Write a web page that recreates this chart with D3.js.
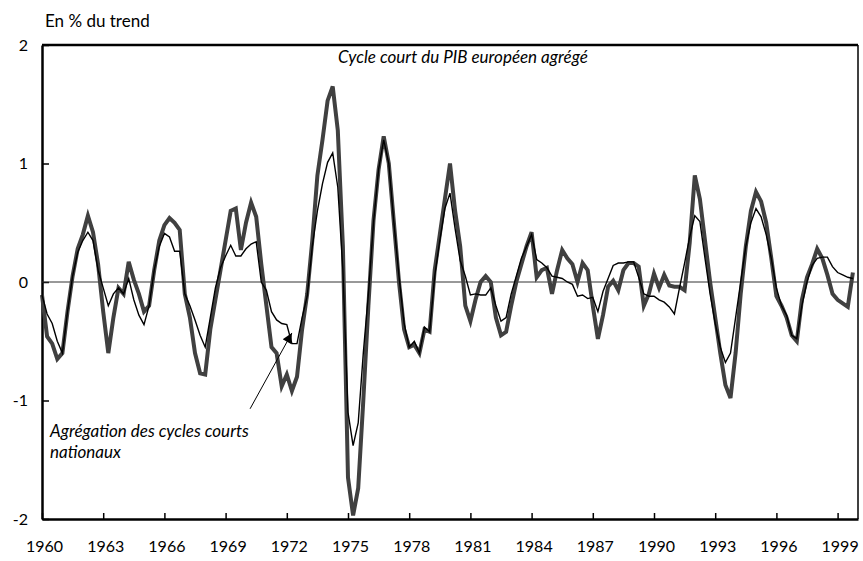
<!DOCTYPE html>
<html>
<head>
<meta charset="utf-8">
<script src="https://cdn.jsdelivr.net/npm/d3@7"></script>
<style>
  body { margin: 0; background: #fff; }
  #chart { width: 863px; height: 561px; }
  text { font-family: Lato, "Open Sans", sans-serif; fill: #000; }
</style>
</head>
<body>
<div id="chart"></div>
<script>
// quarterly data, 1960Q1 - 1999Q4
var startYear = 1960;

var europe = [
	-0.11, -0.46, -0.52, -0.65, -0.6, -0.25, 0.05, 0.28, 0.4, 0.56,
	0.42, 0.15, -0.25, -0.6, -0.3, -0.05, -0.1, 0.17, 0.02, -0.1,
	-0.25, -0.2, 0.1, 0.35, 0.48, 0.54, 0.5, 0.44, -0.1, -0.3,
	-0.6, -0.77, -0.78, -0.4, -0.15, 0.1, 0.35, 0.6, 0.62, 0.27,
	0.5, 0.67, 0.55, 0.15, -0.2, -0.55, -0.6, -0.88, -0.78, -0.92,
	-0.8, -0.4, -0.1, 0.35, 0.9, 1.2, 1.53, 1.65, 1.28, 0.3,
	-1.65, -1.97, -1.74, -1.0, -0.2, 0.52, 0.95, 1.23, 1.0, 0.5,
	0.0, -0.4, -0.55, -0.53, -0.6, -0.4, -0.42, 0.1, 0.4, 0.7,
	1.0, 0.6, 0.3, -0.2, -0.33, -0.15, 0.0, 0.05, 0.0, -0.3,
	-0.45, -0.42, -0.2, 0.0, 0.15, 0.3, 0.42, 0.04, 0.1, 0.12,
	-0.1, 0.1, 0.27, 0.2, 0.15, 0.0, 0.16, 0.1, -0.2, -0.48,
	-0.28, -0.04, 0.01, -0.07, 0.1, 0.16, 0.16, 0.13, -0.2, -0.1,
	0.07, -0.05, 0.06, -0.03, -0.04, -0.04, -0.07, 0.33, 0.9, 0.7,
	0.35, 0.0, -0.3, -0.6, -0.87, -0.98, -0.6, -0.1, 0.3, 0.6,
	0.76, 0.68, 0.5, 0.2, -0.12, -0.2, -0.3, -0.45, -0.5, -0.15,
	0.04, 0.15, 0.28, 0.2, 0.06, -0.1, -0.15, -0.18, -0.21, 0.08
];

var national = [
	-0.11, -0.27, -0.35, -0.5, -0.6, -0.25, 0.05, 0.25, 0.35, 0.42,
	0.35, 0.1, -0.05, -0.2, -0.1, -0.05, -0.1, 0.03, -0.15, -0.28,
	-0.36, -0.2, 0.1, 0.3, 0.41, 0.38, 0.26, 0.26, -0.1, -0.2,
	-0.32, -0.45, -0.55, -0.3, -0.05, 0.12, 0.22, 0.31, 0.22, 0.22,
	0.28, 0.32, 0.34, 0.0, -0.07, -0.25, -0.32, -0.35, -0.36, -0.52,
	-0.52, -0.3, -0.12, 0.3, 0.6, 0.83, 1.01, 1.09, 0.8, 0.1,
	-1.1, -1.38, -1.19, -0.6, -0.1, 0.5, 0.95, 1.2, 1.0, 0.5,
	0.05, -0.35, -0.55, -0.5, -0.6, -0.38, -0.42, 0.05, 0.35, 0.62,
	0.75, 0.45, 0.18, 0.05, -0.11, -0.1, -0.11, -0.11, -0.05, -0.2,
	-0.33, -0.3, -0.1, 0.05, 0.2, 0.3, 0.4, 0.19, 0.16, 0.12,
	0.05, 0.04, 0.03, 0.0, -0.02, -0.12, -0.11, -0.14, -0.13, -0.25,
	-0.08, 0.03, 0.14, 0.16, 0.16, 0.17, 0.17, 0.04, -0.1, -0.12,
	-0.12, -0.15, -0.17, -0.21, -0.27, -0.05, 0.16, 0.38, 0.56, 0.51,
	0.2, -0.1, -0.35, -0.55, -0.68, -0.6, -0.3, 0.0, 0.3, 0.5,
	0.62, 0.55, 0.4, 0.2, -0.05, -0.2, -0.28, -0.45, -0.48, -0.2,
	0.0, 0.14, 0.2, 0.21, 0.21, 0.13, 0.08, 0.06, 0.04, 0.03
];

var xTicks = [1960, 1963, 1966, 1969, 1972, 1975, 1978, 1981, 1984, 1987, 1990, 1993, 1996, 1999];
var yTicks = [-2, -1, 0, 1, 2];

var dom = document.getElementById('chart');
var width = 863, height = 561;
var padding = {left: 42, right: 5, top: 45, bottom: 42};

var svg = d3.select(dom)
	.append("svg")
	.attr("width", width)
	.attr("height", height);

var xScale = d3.scaleLinear()
	.domain([1960, 2000])
	.range([padding.left, width - padding.right]);

var yScale = d3.scaleLinear()
	.domain([-2, 2])
	.range([height - padding.bottom, padding.top]);

var dates = europe.map(function(d, i){ return startYear + i / 4; });

// axes
var xAxis = d3.axisBottom(xScale)
	.tickValues(xTicks)
	.tickFormat(d3.format("d"))
	.tickSizeInner(-6)
	.tickSizeOuter(0)
	.tickPadding(22);

var yAxis = d3.axisLeft(yScale)
	.tickValues(yTicks)
	.tickFormat(function(d){ return d; })
	.tickSizeInner(-7)
	.tickSizeOuter(0)
	.tickPadding(14);

var gx = svg.append("g")
	.attr("transform", "translate(0," + yScale(-2) + ")")
	.call(xAxis);
gx.select(".domain").attr("stroke-width", 2.5);
gx.selectAll(".tick line").attr("stroke-width", 1.5);
gx.selectAll(".tick text").attr("font-size", 16).attr("dx", 2);

var gy = svg.append("g")
	.attr("transform", "translate(" + xScale(1960) + ",0)")
	.call(yAxis);
gy.select(".domain").attr("stroke-width", 2.5);
gy.selectAll(".tick line").attr("stroke-width", 1.5);
gy.selectAll(".tick text").attr("font-size", 16);

// top and right frame
svg.append("line")
	.attr("x1", xScale(1960)).attr("x2", xScale(2000))
	.attr("y1", yScale(2)).attr("y2", yScale(2))
	.attr("stroke", "#000").attr("stroke-width", 2.5);
svg.append("line")
	.attr("x1", xScale(2000)).attr("x2", xScale(2000))
	.attr("y1", yScale(2)).attr("y2", yScale(-2))
	.attr("stroke", "#000").attr("stroke-width", 1.5);

// zero line
svg.append("line")
	.attr("x1", xScale(1960)).attr("x2", xScale(2000))
	.attr("y1", yScale(0)).attr("y2", yScale(0))
	.attr("stroke", "#333").attr("stroke-width", 1);

var line = d3.line()
	.x(function(d, i){ return xScale(dates[i]); })
	.y(function(d){ return yScale(d); });

svg.append("path")
	.datum(europe)
	.attr("fill", "none")
	.attr("stroke", "#404040")
	.attr("stroke-width", 4)
	.attr("stroke-linejoin", "miter")
	.attr("d", line);

svg.append("path")
	.datum(national)
	.attr("fill", "none")
	.attr("stroke", "#000")
	.attr("stroke-width", 1.4)
	.attr("d", line);

// unit label
svg.append("text")
	.attr("x", 45).attr("y", 27)
	.attr("font-size", 17)
	.text("En % du trend");

// annotations
svg.append("text")
	.attr("x", 338).attr("y", 63)
	.attr("font-size", 17).attr("font-style", "italic")
	.text("Cycle court du PIB européen agrégé");

svg.append("defs").append("marker")
	.attr("id", "arrow")
	.attr("viewBox", "0 0 10 10")
	.attr("refX", 10).attr("refY", 5)
	.attr("markerWidth", 20).attr("markerHeight", 10)
	.attr("markerUnits", "userSpaceOnUse")
	.attr("orient", "auto")
	.append("path")
	.attr("d", "M0,0 L10,5 L0,10 z")
	.attr("fill", "#000");

svg.append("line")
	.attr("x1", xScale(1970.2)).attr("y1", yScale(-1.07))
	.attr("x2", xScale(1972.25)).attr("y2", yScale(-0.43))
	.attr("stroke", "#000").attr("stroke-width", 1)
	.attr("marker-end", "url(#arrow)");

var ann = svg.append("text")
	.attr("font-size", 17).attr("font-style", "italic");
ann.append("tspan").attr("x", 50).attr("y", 437).text("Agrégation des cycles courts");
ann.append("tspan").attr("x", 50).attr("y", 458).text("nationaux");
</script>
</body>
</html>
